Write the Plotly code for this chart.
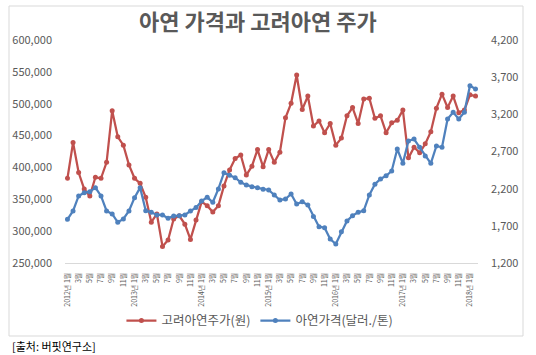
import plotly.graph_objects as go

# Monthly data, 2012-01 .. 2018-02
months = [f"{y}-{m:02d}" for y in range(2012, 2019) for m in range(1, 13)][:74]

korea_zinc_price = [
    383000, 439000, 392000, 366000, 355000, 384500, 383000, 408000, 489000, 448000,
    435000, 404000, 383000, 375000, 353000, 314000, 327000, 276000, 286000, 319000,
    324000, 311000, 287000, 317500, 346000, 340000, 330000, 340000, 371000, 396000,
    414000, 419500, 388000, 402000, 428000, 401000, 428000, 408000, 424000, 478000,
    500600, 545000, 491000, 512000, 465000, 473000, 454500, 469000, 435000, 446000,
    481000, 494000, 469000, 507500, 508500, 477000, 481000, 454500, 470000, 474000,
    490000, 415000, 431600, 423000, 437000, 456000, 493000, 515000, 494000, 512000,
    486000, 490000, 514000, 512000,
]

zinc_price = [
    1788, 1900, 2102, 2146, 2160, 2214, 2102, 1900, 1860, 1748,
    1792, 1900, 2079, 2214, 1904, 1882, 1846, 1846, 1802, 1833,
    1837, 1846, 1900, 1945, 2034, 2084, 2017, 2196, 2415, 2380,
    2348, 2285, 2250, 2227, 2214, 2192, 2183, 2115, 2048, 2061,
    2129, 1994, 2025, 1981, 1824, 1689, 1675, 1523, 1456, 1622,
    1766, 1837, 1882, 1904, 2115, 2259, 2330, 2373, 2438, 2734,
    2541, 2842, 2868, 2757, 2640, 2541, 2774, 2757, 3137, 3227,
    3137, 3227, 3585, 3541,
]

tick_idx = list(range(0, 73, 2))
tick_text = []
for i in tick_idx:
    y, m = months[i].split("-")
    m = int(m)
    tick_text.append(f"{y}년 {m}월" if m == 1 else f"{m}월")

x = list(range(len(months)))
FONT = "Noto Sans CJK KR, Noto Sans, sans-serif"
RED = "#C0504D"
BLUE = "#4F81BD"
GRAY = "#595959"

fig = go.Figure()
fig.add_trace(go.Scatter(
    x=x, y=korea_zinc_price, name="고려아연주가(원)", mode="lines+markers",
    line=dict(color=RED, width=2.25), marker=dict(color=RED, size=5),
    yaxis="y",
))
fig.add_trace(go.Scatter(
    x=x, y=zinc_price, name="아연가격(달러./톤)", mode="lines+markers",
    line=dict(color=BLUE, width=2.25), marker=dict(color=BLUE, size=5),
    yaxis="y2",
))

fig.update_layout(
    width=536, height=355,
    margin=dict(l=65, r=58, t=40, b=92),
    paper_bgcolor="white", plot_bgcolor="white",
    font=dict(family=FONT, color=GRAY, size=11),
    title=dict(text="<b>아연 가격과 고려아연 주가</b>", x=0.481, y=0.938,
               xanchor="center", yanchor="middle",
               font=dict(family=FONT, size=22, color=GRAY)),
    xaxis=dict(
        range=[-0.44, 73.44], tickmode="array", tickvals=tick_idx, ticktext=tick_text,
        tickangle=-90, tickfont=dict(size=7, color=GRAY), showgrid=False,
        showline=True, linecolor="#d9d9d9", linewidth=1, zeroline=False,
        ticks="", ticklabelstandoff=6,
    ),
    yaxis=dict(
        range=[250000, 600000], dtick=50000, tick0=250000, tickformat=",",
        showgrid=False, zeroline=False, showline=False, ticks="",
        tickfont=dict(size=11, color=GRAY), ticklabelstandoff=12,
    ),
    yaxis2=dict(
        range=[1200, 4200], dtick=500, tick0=1200, tickformat=",",
        overlaying="y", side="right", showgrid=False, zeroline=False,
        showline=False, ticks="", tickfont=dict(size=11, color=GRAY),
        ticklabelstandoff=12,
    ),
    legend=dict(orientation="h", x=0.472, y=-0.26, xanchor="center", yanchor="middle",
                font=dict(size=12.5, color=GRAY), bgcolor="rgba(0,0,0,0)",
                itemwidth=30),
    showlegend=True,
)

# chart border
fig.add_shape(type="rect", xref="paper", yref="paper",
              x0=(9 - 65) / 413, x1=(523 - 65) / 413,
              y0=(263 - 336) / 223, y1=(263 - 6) / 223,
              line=dict(color="#d9d9d9", width=1), fillcolor="rgba(0,0,0,0)", layer="below")

fig.add_annotation(text="[출처: 버핏연구소]", xref="paper", yref="paper",
                   x=(10 - 65) / 413, y=(263 - 346) / 223, xanchor="left", yanchor="middle",
                   showarrow=False, font=dict(family=FONT, size=11, color="#000000"))

fig.write_html("out.html",
               config={"displayModeBar": False},
               post_script="document.body.style.margin='0';document.body.style.overflow='hidden';")
